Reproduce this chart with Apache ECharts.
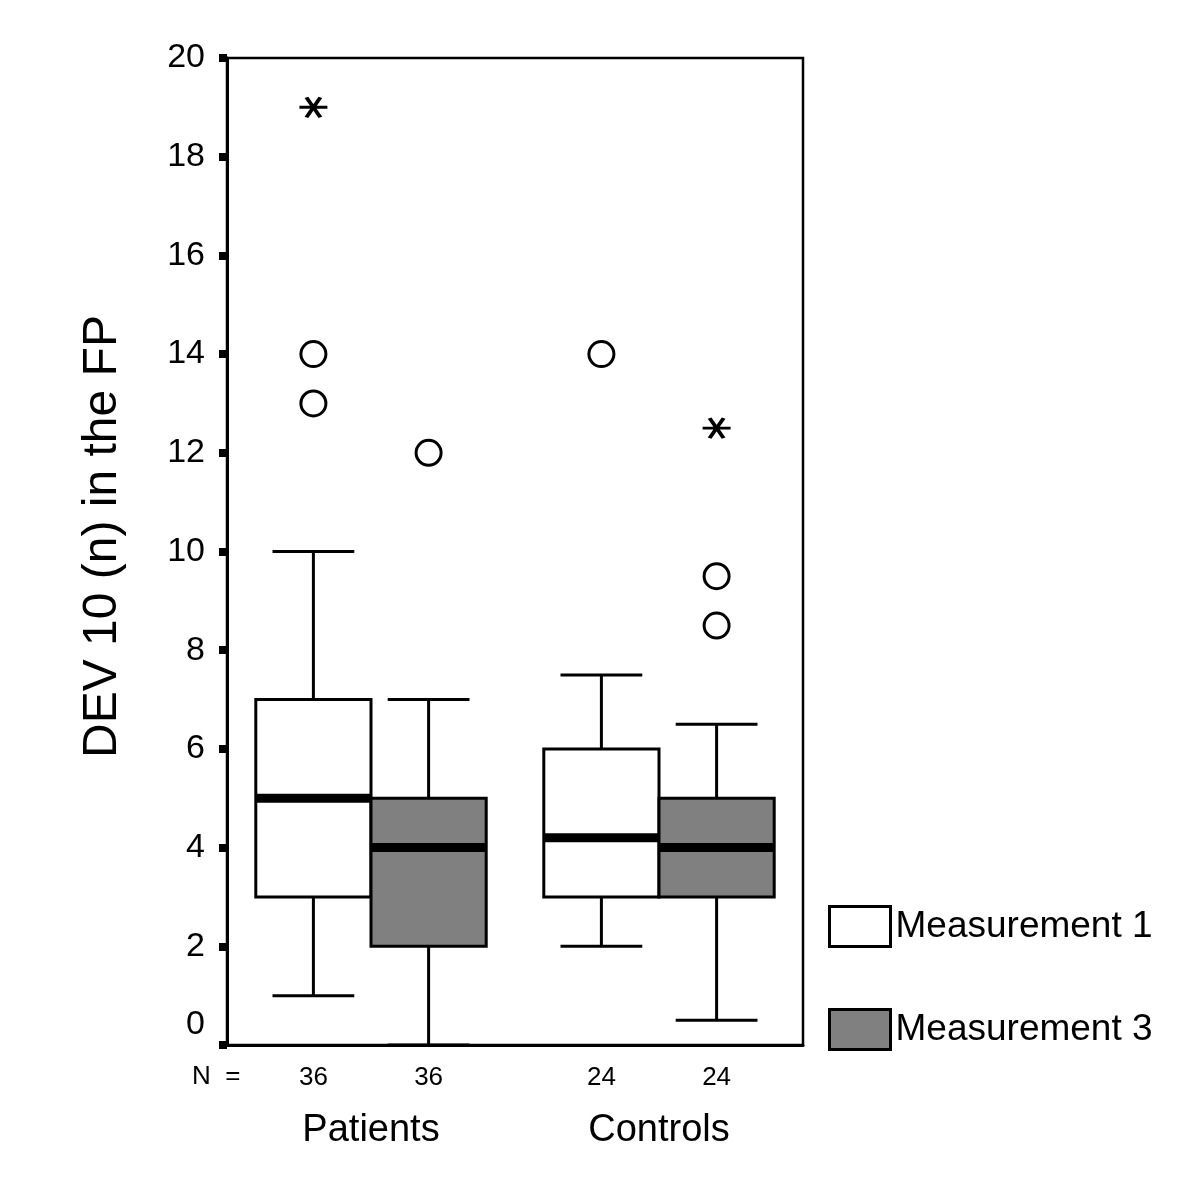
<!DOCTYPE html>
<html>
<head>
<meta charset="utf-8">
<script src="https://cdn.jsdelivr.net/npm/echarts@6/dist/echarts.min.js"></script>
<style>html,body{margin:0;padding:0;background:#fff}#c{width:1200px;height:1200px}</style>
</head>
<body>
<div id="c"></div>
<script>
// ---- data ----
var categories = ['Patients', 'Controls'];
var seriesNames = ['Measurement 1', 'Measurement 3'];
// [low whisker, Q1, median, Q3, high whisker]
var m1Low = [1, 2], m1Q1 = [3, 3], m1Median = [5, 4.2], m1Q3 = [7, 6], m1High = [10, 7.5];
var m3Low = [0, 0.5], m3Q1 = [2, 3], m3Median = [4, 4], m3Q3 = [5, 5], m3High = [7, 6.5];
var m1N = [36, 24];
var m3N = [36, 24];
// outliers [categoryIndex, value]
var m1Circles = [[0, 14], [0, 13], [1, 14]];
var m1Stars = [[0, 19]];
var m3Circles = [[0, 12], [1, 9.5], [1, 8.5]];
var m3Stars = [[1, 12.5]];
var yTicks = {min: 0, max: 20, interval: 2};

var FONT = '"Liberation Sans", Arial, Helvetica, sans-serif';

function buildBoxData(low, q1, med, q3, high, n) {
  return categories.map(function (c, i) { return [i, low[i], q1[i], med[i], q3[i], high[i], n[i]]; });
}

function makeRender(side, fillColor) {
  return function (params, api) {
    var ci = api.value(0);
    var band = api.size([1, 0])[0];
    var boxW = band * 0.4;
    var capW = boxW * 0.71;
    var c = api.coord([ci, 0]);
    var cx = c[0] + side * boxW / 2;
    var yLow = api.coord([ci, api.value(1)])[1];
    var yQ1 = api.coord([ci, api.value(2)])[1];
    var yMed = api.coord([ci, api.value(3)])[1];
    var yQ3 = api.coord([ci, api.value(4)])[1];
    var yHigh = api.coord([ci, api.value(5)])[1];
    var yZero = c[1];
    var ls = {stroke: '#000', lineWidth: 3, fill: null};
    return {
      type: 'group',
      children: [
        {type: 'line', shape: {x1: cx, y1: yQ3, x2: cx, y2: yHigh}, style: ls},
        {type: 'line', shape: {x1: cx, y1: yQ1, x2: cx, y2: yLow}, style: ls},
        {type: 'line', shape: {x1: cx - capW / 2, y1: yHigh, x2: cx + capW / 2, y2: yHigh}, style: ls},
        {type: 'line', shape: {x1: cx - capW / 2, y1: yLow, x2: cx + capW / 2, y2: yLow}, style: ls},
        {type: 'rect', shape: {x: cx - boxW / 2, y: yQ3, width: boxW, height: yQ1 - yQ3},
          style: {fill: fillColor, stroke: '#000', lineWidth: 3}},
        {type: 'line', shape: {x1: cx - boxW / 2 + 1, y1: yMed, x2: cx + boxW / 2 - 1, y2: yMed},
          style: {stroke: '#000', lineWidth: 9}},
        {type: 'text', style: {text: String(api.value(6)), x: cx, y: yZero + 33,
          align: 'center', verticalAlign: 'middle', fontSize: 26, fontFamily: FONT, fill: '#000'}}
      ]
    };
  };
}

var starPath = 'path://M0,10L28,10M7,0L21,20M21,0L7,20';
var OFF = 57.6;

function circleSeries(name, data, off) {
  return {name: name, type: 'scatter', data: data, symbol: 'circle', symbolSize: 25,
    symbolOffset: [off, 0], itemStyle: {color: '#fff', borderColor: '#000', borderWidth: 3, opacity: 1},
    z: 5, silent: true};
}
function starSeries(name, data, off) {
  return {name: name, type: 'scatter', data: data, symbol: starPath, symbolSize: [28, 20],
    symbolOffset: [off, 0], itemStyle: {color: 'none', borderColor: '#000', borderWidth: 3.5, opacity: 1},
    z: 5, silent: true};
}

var chart = echarts.init(document.getElementById('c'), null, {renderer: 'canvas'});
chart.setOption({
  animation: false,
  backgroundColor: '#fff',
  grid: {left: 227, top: 58, width: 576, height: 987, show: true, borderColor: '#000', borderWidth: 2.5, backgroundColor: 'transparent'},
  legend: {
    orient: 'vertical', left: 828, top: 905, itemWidth: 61, itemHeight: 40, itemGap: 60, padding: 0,
    textStyle: {fontSize: 37, fontFamily: FONT, color: '#000'},
    selectedMode: false,
    data: [
      {name: seriesNames[0], icon: 'rect', itemStyle: {color: '#ffffff', borderColor: '#000', borderWidth: 3}},
      {name: seriesNames[1], icon: 'rect', itemStyle: {color: '#808080', borderColor: '#000', borderWidth: 3}}
    ]
  },
  graphic: [
    {type: 'text', left: 192, top: 1064, style: {text: 'N  =', fontSize: 26, fontFamily: FONT, fill: '#000'}}
  ],
  xAxis: {
    type: 'category', data: categories,
    axisLine: {lineStyle: {color: '#000', width: 3}},
    axisTick: {alignWithLabel: true, length: 8, lineStyle: {color: '#000', width: 8}},
    axisLabel: {margin: 67, fontSize: 38, fontFamily: FONT, color: '#000'},
    splitLine: {show: false}
  },
  yAxis: {
    type: 'value', min: yTicks.min, max: yTicks.max, interval: yTicks.interval,
    name: 'DEV 10 (n) in the FP', nameLocation: 'middle', nameGap: 100,
    nameTextStyle: {fontSize: 48, fontFamily: FONT, color: '#000', padding: [0, 0, 0, 30]},
    axisLine: {show: true, lineStyle: {color: '#000', width: 3}},
    axisTick: {show: true, length: 8, lineStyle: {color: '#000', width: 8}},
    axisLabel: {margin: 22, fontSize: 34, fontFamily: FONT, color: '#000',
      formatter: function (v) { return v === 0 ? '{z|0}' : String(v); },
      rich: {z: {fontSize: 34, fontFamily: FONT, color: '#000', padding: [0, 0, 40, 0]}}},
    splitLine: {show: false}
  },
  series: [
    {name: seriesNames[0], type: 'custom', renderItem: makeRender(-1, '#ffffff'), clip: false,
      itemStyle: {color: '#ffffff'}, encode: {x: 0, y: [1, 2, 3, 4, 5]},
      data: buildBoxData(m1Low, m1Q1, m1Median, m1Q3, m1High, m1N), z: 3},
    {name: seriesNames[1], type: 'custom', renderItem: makeRender(1, '#808080'), clip: false,
      itemStyle: {color: '#808080'}, encode: {x: 0, y: [1, 2, 3, 4, 5]},
      data: buildBoxData(m3Low, m3Q1, m3Median, m3Q3, m3High, m3N), z: 3},
    circleSeries('m1 outliers', m1Circles, -OFF),
    starSeries('m1 extremes', m1Stars, -OFF),
    circleSeries('m3 outliers', m3Circles, OFF),
    starSeries('m3 extremes', m3Stars, OFF)
  ]
});
</script>
</body>
</html>
